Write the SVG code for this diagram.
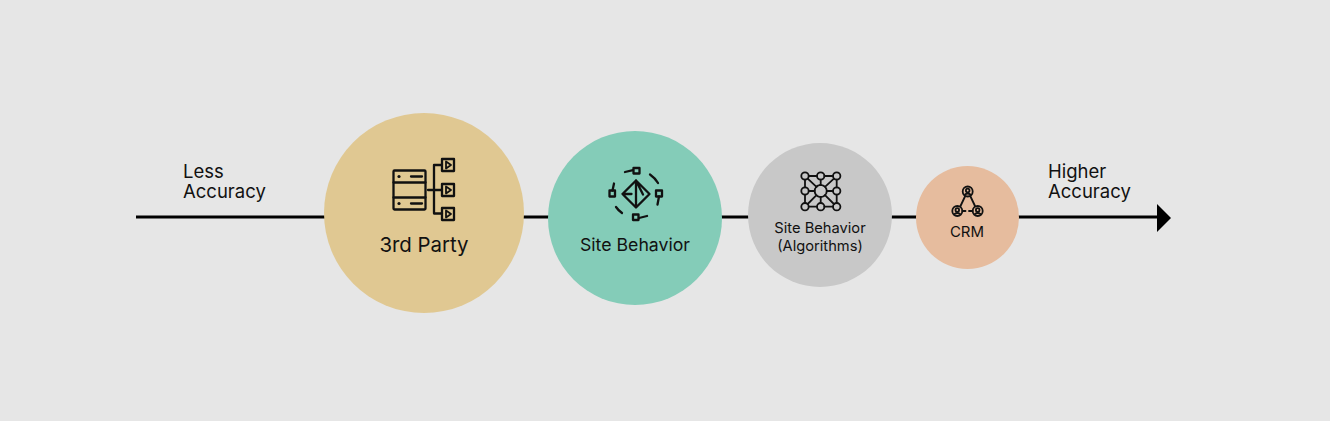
<svg xmlns="http://www.w3.org/2000/svg" width="1330" height="421" viewBox="0 0 1330 421">
<style>
text{font-family:"Inter","Liberation Sans",sans-serif;fill:#111}
.i{fill:none;stroke:#111;stroke-width:2.300;stroke-linecap:round;stroke-linejoin:round}
.t{stroke-width:1.800}
.b{fill:#111;stroke:none}
</style>
<rect width="1330" height="421" fill="#e6e6e6"/>
<g id="connectors">
<line x1="136" y1="217" x2="1160" y2="217" stroke="#000" stroke-width="3"/>
<polygon points="1157,204 1171,218 1157,232" fill="#000"/>
</g>
<g id="label-less"><text x="183" y="178" font-size="18.500">Less</text><text x="183" y="198" font-size="18.500">Accuracy</text></g>
<g id="label-higher"><text x="1048" y="178" font-size="18.500">Higher</text><text x="1048" y="198" font-size="18.500">Accuracy</text></g>
<g id="node-3rd-party">
<circle cx="424" cy="213" r="100" fill="#e0c892"/>
<g class="i">
<rect x="393.500" y="170.500" width="32" height="39" rx="1"/>
<path d="M393.500 182.500h32M393.500 197.500h32M411 176.500h11M411 203.500h11"/>
<path d="M428 190h14M434 165v48M434 165h8M434 213.500h8"/>
<rect x="442" y="159" width="12" height="12"/><rect x="442" y="184" width="12" height="12"/><rect x="442" y="208" width="12" height="12"/>
<path class="t" d="M446 161.500l5 3.500-5 3.500zM446 186.500l5 3.500-5 3.500zM446 210.500l5 3.500-5 3.500z"/>
</g>
<circle class="b" cx="399" cy="176.500" r="1.600"/><circle class="b" cx="399" cy="203.500" r="1.600"/>
<text x="424" y="252" font-size="20.400" text-anchor="middle">3rd Party</text>
</g>
<g id="node-site-behavior">
<circle cx="635" cy="218" r="87" fill="#84ccb8"/>
<g class="i">
<path d="M636 180.500l13.500 13.500-13.500 13.500-13.500-13.500zM636 180.500v27M622.500 194h9M636 180.500l7 14"/>
<rect x="633.500" y="168" width="6" height="5.500"/><path d="M625 172l8-1.800"/>
<rect x="633" y="214.500" width="5.500" height="5.500"/><path d="M639 218l8-2"/>
<rect x="609.500" y="190.500" width="5.500" height="6"/><path d="M612.500 190.500l1.500-7"/>
<rect x="656" y="190.500" width="6" height="6"/><path d="M659 196.500l-1.500 8"/>
<path d="M650 174.500q5 3.500 8 8.500M616 207q2 3 6 6"/>
</g>
<text x="635" y="251" font-size="17.700" text-anchor="middle">Site Behavior</text>
</g>
<g id="node-algorithms">
<circle cx="820" cy="215" r="72" fill="#c8c8c8"/>
<g class="i t">
<circle cx="805" cy="176" r="3.700"/><circle cx="820.700" cy="176" r="3.700"/><circle cx="836.700" cy="176" r="3.700"/>
<circle cx="805" cy="191" r="3.700"/><circle cx="836.700" cy="191" r="3.700"/>
<circle cx="805" cy="206.700" r="3.700"/><circle cx="820.700" cy="206.700" r="3.700"/><circle cx="836.700" cy="206.700" r="3.700"/>
<circle cx="820.700" cy="191" r="6" stroke-dasharray="2.500 1.200"/>
<path d="M808.700 176h8.300M824.400 176h8.600M808.700 206.700h8.300M824.400 206.700h8.600M805 179.700v7.600M805 194.700v8.300M836.700 179.700v7.600M836.700 194.700v8.300M820.700 179.700v5.300M820.700 197v6M808.700 191h6M826.700 191h6.300M807.700 178.700l8.800 8.100M833.900 178.700l-8.900 8.100M807.700 204l8.800-8.800M833.900 204l-8.900-8.800"/>
</g>
<text x="820" y="233" font-size="14.700" text-anchor="middle">Site Behavior</text>
<text x="820" y="251" font-size="14.700" text-anchor="middle">(Algorithms)</text>
</g>
<g id="node-crm">
<circle cx="967.500" cy="217.500" r="51.500" fill="#e6bc9e"/>
<g class="i t">
<circle cx="967.700" cy="191.500" r="5"/><circle cx="957.300" cy="211" r="5"/><circle cx="977.700" cy="211" r="5"/>
<circle cx="967.700" cy="190.500" r="1.800"/><circle cx="957.300" cy="210" r="1.800"/><circle cx="977.700" cy="210" r="1.800"/>
<path d="M965 194.500q2.700-2 5.400 0M954.600 214q2.700-2 5.400 0M975 214q2.700-2 5.400 0M965 196.500l-4.500 9.500M970.500 196.500l4.500 9.500M962.500 211h3M969 211h3.500"/>
</g>
<text x="967" y="237" font-size="15" text-anchor="middle">CRM</text>
</g>
</svg>
